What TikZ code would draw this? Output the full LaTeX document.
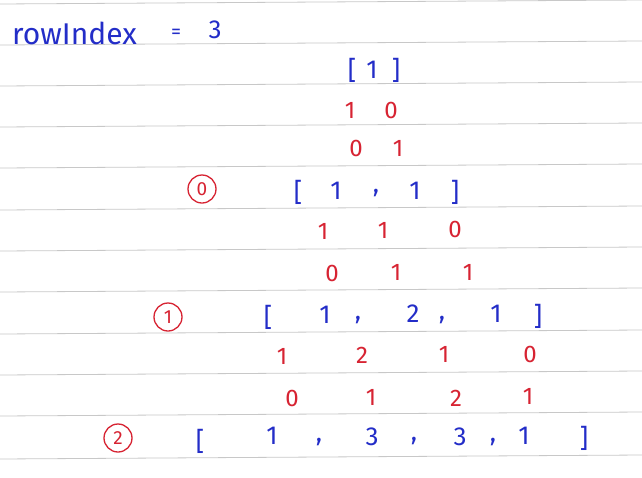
\documentclass[tikz,border=0pt]{standalone}
\usepackage{fontspec}
\setmainfont{Fira Sans}
\definecolor{inkblue}{RGB}{35,45,200}
\definecolor{inkred}{RGB}{215,35,50}
\definecolor{rule}{RGB}{200,200,200}
\begin{document}
\begin{tikzpicture}[x=1pt,y=-1pt,
  blu/.style={text=inkblue,font=\fontsize{26}{26}\selectfont,inner sep=0pt},
  rd/.style={text=inkred,font=\fontsize{24}{24}\selectfont,inner sep=0pt},
  circ/.style={draw=inkred,line width=1.3pt,circle,minimum size=28pt,inner sep=0pt,text=inkred,font=\fontsize{19}{19}\selectfont},
  ruleline/.style={draw=rule,line width=0.8pt}]
\useasboundingbox (0,0) rectangle (642,477);
\fill[white] (0,0) rectangle (642,477);
% ruled lines
\foreach \y in {4,45,86,127,168,210,251,292,334,375,416,459}
  \draw[ruleline] (0,\y) -- (642,\y-4);
% title
\node[blu,anchor=west,font=\fontsize{30}{30}\selectfont] (title) at (12,33) {rowIndex};
\node[blu,font=\fontsize{20}{20}\selectfont] (eq) at (176,34) {=};
\node[blu] (three) at (215,30) {3};
% row [1]
\node[blu] (a0) at (352,70) {[};
\node[blu] (a1) at (372,70) {1};
\node[blu] (a2) at (396,70) {]};
\node[rd] (r1a) at (350,110) {1};
\node[rd] (r1b) at (391,110) {0};
\node[rd] (r2a) at (356,148) {0};
\node[rd] (r2b) at (398,148) {1};
% row 0
\node[circ] (c0) at (202,189) {0};
\node[blu] (b0) at (298,192) {[};
\node[blu] (b1) at (336,191) {1};
\node[blu] (b2) at (376,193) {,};
\node[blu] (b3) at (415,191) {1};
\node[blu] (b4) at (455,192) {]};
\node[rd] (s1a) at (323,231) {1};
\node[rd] (s1b) at (383,230) {1};
\node[rd] (s1c) at (455,229) {0};
\node[rd] (s2a) at (332,273) {0};
\node[rd] (s2b) at (396,272) {1};
\node[rd] (s2c) at (468,272) {1};
% row 1
\node[circ] (c1) at (168,317) {1};
\node[blu] (d0) at (268,317) {[};
\node[blu] (d1) at (325,315) {1};
\node[blu] (d2) at (358,320) {,};
\node[blu] (d3) at (413,314) {2};
\node[blu] (d4) at (442,320) {,};
\node[blu] (d5) at (496,314) {1};
\node[blu] (d6) at (538,316) {]};
\node[rd] (t1a) at (282,356) {1};
\node[rd] (t1b) at (362,355) {2};
\node[rd] (t1c) at (444,354) {1};
\node[rd] (t1d) at (530,354) {0};
\node[rd] (t2a) at (292,398) {0};
\node[rd] (t2b) at (371,397) {1};
\node[rd] (t2c) at (456,398) {2};
\node[rd] (t2d) at (528,396) {1};
% row 2
\node[circ] (c2) at (118,438) {2};
\node[blu] (e0) at (200,441) {[};
\node[blu] (e1) at (272,436) {1};
\node[blu] (e2) at (319,442) {,};
\node[blu] (e3) at (372,437) {3};
\node[blu] (e4) at (414,441) {,};
\node[blu] (e5) at (460,437) {3};
\node[blu] (e6) at (493,442) {,};
\node[blu] (e7) at (524,436) {1};
\node[blu] (e8) at (584,438) {]};
\end{tikzpicture}
\end{document}
